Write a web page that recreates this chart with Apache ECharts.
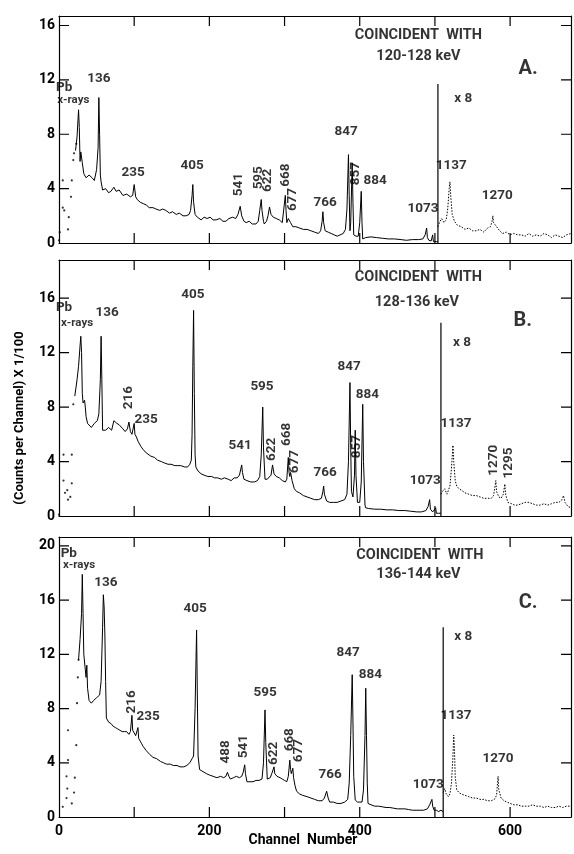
<!DOCTYPE html>
<html><head><meta charset="utf-8">
<script src="https://cdn.jsdelivr.net/npm/echarts@6/dist/echarts.min.js"></script>
<style>html,body{margin:0;padding:0;background:#fff}#c{width:574px;height:854px}</style>
</head><body><div id="c"></div>
<script>
// ---------- data: [channel, counts/100] ----------
const xMax = 681;
const xTickStep = 100;
const xTickValues = [100, 200, 300, 400, 500, 600];
const xLabelsShown = ['0', '200', '400', '600'];
const yTickStep = 4;
const yTickValues = [[4, 8, 12, 16], [4, 8, 12, 16], [4, 8, 12, 16, 20]];
const panelMax = [16.7, 18.8, 20.66];

// Panel A (coincident with 120-128 keV)
const dotsA = [[0,0.2],[1,0.8],[5,2.6],[7,2.4],[5,4.6],[12,1.0],[13,1.9],[16,3.4],[17,4.6],[19,6.1],[20,6.6],[23,7.3]];
const lineA = [[22,6.8],[24,7.8],[26,9.8],[27,8.5],[28,6.0],[29,6.7],[31,5.9],[33,5.1],[36,4.8],[40,5.0],[44,4.8],[47,4.6],[50,5.4],[52,7],[53,10.7],[54,8],[55,5],[56,4.5],[58,3.9],[62,4.0],[66,3.7],[69,3.8],[73,4.1],[76,3.8],[80,3.9],[85,3.5],[90,3.6],[95,3.4],[98,3.5],[100,4.3],[102,3.4],[104,3.2],[108,3.0],[112,2.9],[116,2.8],[120,2.6],[125,2.6],[129,2.5],[134,2.4],[138,2.5],[142,2.4],[147,2.2],[151,2.3],[156,2.1],[160,2.2],[165,2.0],[169,2.0],[173,2.1],[175,2.4],[177,3.5],[178,4.3],[179,3.0],[181,2.1],[184,1.9],[189,1.7],[193,1.9],[197,1.8],[201,1.9],[205,1.7],[209,1.7],[214,1.8],[218,1.6],[222,1.6],[226,1.8],[231,1.9],[235,1.8],[238,2.1],[241,2.7],[243,2.0],[246,1.6],[249,1.5],[253,1.6],[257,1.4],[262,1.4],[265,1.6],[267,2.4],[269,3.2],[270,2.4],[272,1.6],[273,1.4],[276,1.6],[278,2.0],[280,2.65],[282,2.1],[285,1.9],[289,1.8],[293,1.7],[297,1.5],[299,1.6],[301,3.5],[302,2.4],[303,1.5],[305,1.8],[306,1.9],[308,1.5],[311,1.2],[315,1.2],[320,1.1],[325,1.0],[330,1.0],[335,0.9],[340,0.8],[345,0.7],[348,0.9],[350,1.6],[351,2.3],[352,1.5],[354,0.9],[358,0.8],[362,0.7],[366,0.6],[370,0.5],[374,0.6],[378,0.7],[381,1.0],[383,2.5],[385,6.5],[386,3.5],[387,0.9],[388,1.5],[390,5.9],[391,3],[392,0.6],[395,0.5],[398,0.5],[400,1.5],[402,3.8],[403,1.5],[404,0.3],[408,0.4],[415,0.45],[422,0.4],[430,0.35],[438,0.3],[446,0.3],[455,0.25],[462,0.2],[470,0.25],[478,0.25],[484,0.3],[487,0.6],[489,1.1],[490,0.4],[492,0.2],[495,0.15],[497,0.6],[498,0.1],[502,0.1],[504,0.1]];
const breakA = [[504,0],[504,11.7]];
const x8A = [[504,1.2],[506,1.5],[509,1.8],[512,1.5],[515,1.7],[517,2.5],[519,4.0],[520,4.5],[521,3.5],[523,2.1],[526,1.6],[530,1.3],[535,1.2],[540,1.0],[545,1.1],[550,0.9],[555,0.9],[560,1.0],[565,0.8],[570,1.1],[574,1.2],[576,1.6],[577,2.0],[578,1.5],[582,1.2],[586,0.9],[590,0.7],[595,0.8],[600,0.6],[605,0.7],[610,0.6],[615,0.6],[620,0.5],[625,0.7],[630,0.5],[635,0.6],[640,0.5],[645,0.7],[650,0.6],[655,0.4],[660,0.6],[665,0.5],[670,0.4],[675,0.6],[681,0.7]];

// Panel B (coincident with 128-136 keV)
const dotsB = [[0,0.1],[6,2.6],[8,1.7],[11,1.9],[12,1.2],[15,1.4],[17,2.4],[6,4.5],[17,4.5],[19,8.2]];
const lineB = [[21,8.8],[24,10.0],[26,11],[28,12.5],[29,13.2],[30,12],[31,9],[32,8.3],[34,8.5],[35,8.0],[36,7.3],[38,6.8],[40,6.7],[43,6.5],[47,6.8],[51,7.0],[53,7.5],[55,10],[56,13.2],[57,10],[58,6.3],[62,6.3],[66,6.5],[70,6.3],[73,7.0],[77,6.8],[80,6.7],[85,6.4],[88,6.2],[91,6.4],[93,6.9],[95,6.2],[97,6.0],[99,6.0],[100,6.8],[101,6.0],[103,5.8],[105,5.5],[109,5.1],[113,4.8],[117,4.6],[122,4.4],[127,4.3],[131,4.1],[136,4.0],[140,3.9],[145,3.8],[149,3.8],[154,3.7],[158,3.7],[162,3.7],[167,3.6],[171,3.6],[174,3.8],[176,4.1],[177,6],[178,11],[179,15.1],[180,9],[181,4.5],[182,3.6],[185,3.3],[189,3.1],[193,3.0],[198,2.9],[203,2.9],[207,2.8],[211,2.8],[216,2.7],[220,2.8],[225,2.7],[229,2.6],[233,2.8],[237,2.8],[240,3.0],[243,3.75],[244,3.2],[246,2.7],[250,2.6],[255,2.5],[260,2.5],[264,2.6],[267,2.9],[269,4.5],[271,8.0],[272,5],[274,2.7],[277,2.7],[279,2.8],[282,3.0],[284,3.75],[286,3.1],[289,2.9],[293,2.8],[297,2.6],[301,2.5],[303,2.7],[305,4.3],[306,3.2],[307,2.9],[308,3.2],[310,2.6],[313,2.0],[316,1.8],[320,1.7],[325,1.5],[330,1.4],[335,1.3],[340,1.2],[345,1.2],[349,1.3],[351,1.8],[352,2.2],[353,1.6],[356,1.1],[360,1.0],[365,1.0],[370,1.0],[375,1.1],[380,1.2],[383,1.6],[385,4],[387,9.8],[388,5],[389,1.8],[391,1.4],[393,3.0],[394,6.3],[395,3.0],[397,1.0],[400,1.0],[402,2.5],[404,8.2],[405,4.0],[407,0.8],[408,0.6],[412,0.55],[420,0.5],[428,0.5],[436,0.45],[444,0.45],[452,0.4],[460,0.4],[468,0.35],[476,0.3],[482,0.3],[488,0.4],[491,0.7],[493,1.2],[494,0.5],[497,0.3],[499,0.3],[501,0.6],[502,0.2],[505,0.2],[508,0.2]];
const breakB = [[508,0],[508,14.2]];
const x8B = [[508,1.6],[510,1.8],[513,2.0],[516,1.6],[518,1.5],[520,2.2],[522,3.5],[524,5.2],[525,4.0],[527,2.6],[529,2.2],[532,2.0],[535,1.9],[540,1.7],[545,1.6],[550,1.5],[555,1.5],[560,1.4],[565,1.3],[570,1.3],[575,1.3],[578,1.5],[580,2.2],[581,2.6],[582,1.8],[585,1.4],[588,1.3],[591,1.6],[593,2.35],[594,1.6],[597,1.0],[602,0.9],[606,0.8],[610,0.8],[615,0.9],[620,1.0],[625,1.0],[630,0.9],[635,0.8],[640,0.8],[645,0.9],[650,0.8],[655,0.9],[660,1.0],[665,1.0],[669,1.2],[671,1.5],[673,1.0],[677,0.7],[681,0.6]];

// Panel C (coincident with 136-144 keV)
const dotsC = [[5,0.75],[10,1.4],[11,2.1],[10,3.0],[12,4.2],[12,6.4],[17,1.0],[20,1.8],[21,2.9],[23,5.3],[24,8.4],[25,10.3],[26,11.6]];
const lineC = [[26,11.6],[28,13.1],[30,15],[31,17.9],[32,15],[33,12],[35,11.9],[36,10.3],[37,11.2],[38,9.5],[40,8.6],[43,8.4],[46,8.6],[50,8.8],[54,9.0],[56,10],[58,14],[59,16.4],[60,15.5],[61,13.5],[62,10],[63,7.3],[66,7.0],[69,6.9],[72,6.7],[75,6.6],[78,6.5],[81,6.4],[84,6.3],[87,6.3],[90,6.3],[93,6.1],[95,6.3],[97,7.5],[98,6.4],[100,6.2],[102,6.0],[104,5.9],[105,6.6],[106,5.8],[108,5.6],[110,5.4],[112,5.2],[116,4.9],[121,4.6],[125,4.4],[130,4.3],[135,4.1],[139,4.0],[143,3.9],[148,3.9],[152,3.8],[157,3.8],[161,3.7],[166,3.7],[170,3.8],[174,4.0],[177,4.3],[179,4.5],[181,8],[183,13.8],[184,9],[185,4.5],[187,3.5],[190,3.4],[192,3.3],[196,3.2],[200,3.1],[205,3.0],[210,2.9],[215,3.0],[219,2.9],[222,3.0],[224,3.3],[226,3.0],[228,2.8],[232,2.9],[236,3.0],[240,2.9],[243,3.0],[245,3.3],[247,3.85],[248,3.2],[250,2.6],[254,2.6],[258,2.6],[262,2.7],[266,2.7],[270,2.8],[272,4.0],[274,7.9],[275,5.5],[277,2.8],[279,2.8],[281,2.9],[283,3.2],[286,3.7],[287,3.2],[290,3.0],[294,2.9],[297,2.8],[300,2.7],[303,2.6],[305,3.0],[307,4.2],[308,3.5],[309,3.2],[311,3.6],[312,2.9],[314,2.3],[316,1.9],[320,1.7],[324,1.6],[330,1.5],[335,1.4],[340,1.3],[345,1.2],[350,1.2],[353,1.4],[356,1.9],[358,1.4],[360,1.1],[365,1.1],[370,1.0],[375,1.0],[380,1.1],[384,1.3],[386,2.5],[388,6],[390,10.5],[391,7],[392,3],[394,1.25],[397,1.1],[400,1.1],[403,1.1],[405,2.0],[407,6],[408,9.5],[409,6],[410,2.5],[411,1.0],[415,0.9],[420,0.8],[425,0.8],[430,0.75],[435,0.7],[440,0.7],[445,0.65],[450,0.6],[455,0.6],[460,0.6],[465,0.55],[470,0.5],[475,0.5],[480,0.5],[485,0.5],[490,0.6],[493,0.9],[496,1.3],[497,0.8],[499,0.5],[502,0.5],[505,0.4],[508,0.5],[511,0.4]];
const breakC = [[511,0],[511,14.0]];
const x8C = [[511,1.8],[513,2.1],[515,1.7],[518,1.5],[520,1.7],[522,2.5],[524,4.5],[525,6.05],[526,5],[527,3],[529,2.0],[532,1.8],[535,1.7],[540,1.6],[545,1.5],[550,1.4],[555,1.4],[560,1.3],[565,1.3],[570,1.2],[575,1.2],[579,1.3],[582,1.6],[584,3.0],[585,2.0],[588,1.4],[592,1.2],[596,1.1],[600,1.0],[605,0.9],[610,0.9],[615,0.8],[620,0.8],[625,0.8],[630,0.9],[635,0.8],[640,0.8],[645,0.7],[650,0.8],[655,0.7],[660,0.7],[665,0.8],[670,0.7],[675,0.8],[681,0.8]];

// annotations: [text, channel, value, rotated?, style]
const notesA = [['Pb',7,11.4,0,'b'],['x-rays',19,10.5,0,'s'],['136',53,12.1],['235',98.5,5.2],['405',177,5.7],['541',239.5,4.3,1],['595',265,4.8,1],['622',278,4.6,1],['668',301,5.0,1],['677',311,3.2,1],['766',354,3.0],['847',382,8.2],['857',394,5.1,1],['884',420.5,4.6],['1073',484,2.5],['x 8',537.6,10.6],['1137',521.6,5.7],['1270',583,3.5],['COINCIDENT  WITH',478,15.3,0,'t'],['120-128 keV',478,13.7,0,'t'],['A.',624,12.8,0,'big']];
const notesB = [['Pb',6.7,15.3,0,'b'],['x-rays',24,14.2,0,'s'],['136',64,14.9],['216',92,8.7,1],['235',116,7.1],['405',178,16.25],['595',270,9.5],['541',241,5.2],['622',283,4.9,1],['668',303,6.0,1],['677',313,4.0,1],['766',354,3.2],['847',386,11.0],['884',410,8.9],['857',396.5,5.1,1],['1073',487,2.6],['x 8',536,12.7],['1137',528,6.8],['1270',577.5,4.1,1],['1295',597.5,3.9,1],['COINCIDENT  WITH',478,17.5,0,'t'],['128-136 keV',476,15.7,0,'t'],['B.',617,14.3,0,'big']];
const notesC = [['Pb',13,19.4,0,'b'],['x-rays',26.6,18.6,0,'s'],['136',62.5,17.3],['216',96,8.5,1],['235',118.4,7.4],['405',181,15.4],['488',221,4.8,1],['541',245,5.2,1],['595',274,9.2],['622',286,4.7,1],['668',307,5.7,1],['677',319,4.9,1],['766',360.6,3.1],['847',384.6,12.1],['884',414,10.5],['1073',491,2.4],['x 8',537.6,13.3],['1137',528,7.5],['1270',584,4.3],['COINCIDENT  WITH',480,19.3,0,'t'],['136-144 keV',478,17.9,0,'t'],['C.',624,15.8,0,'big']];

const yTitle = '(Counts per Channel) X 1/100';
const xTitle = 'Channel  Number';

// ---------- chart ----------
const FONT = 'Roboto';
const INK = '#000';
const CHART_W = 574;
const GRID_LEFT = 59, GRID_RIGHT = 3;
const TICK_PX = 10;
const grids = [
  {left: GRID_LEFT, right: GRID_RIGHT, top: 16, height: 227},
  {left: GRID_LEFT, right: GRID_RIGHT, top: 260, height: 256},
  {left: GRID_LEFT, right: GRID_RIGHT, top: 537, height: 280}
];
const plotW = CHART_W - GRID_LEFT - GRID_RIGHT;
function axisLineSt() { return {color: INK, width: 1.2}; }
function xAxis(i, pos) {
  return {type: 'value', min: 0, max: xMax, interval: xTickStep, gridIndex: i, position: pos,
    axisLine: {show: true, onZero: false, lineStyle: axisLineSt()},
    axisTick: {show: false},
    splitLine: {show: false},
    axisLabel: (pos === 'bottom' && i === 2) ? {show: true, showMaxLabel: false,
      color: INK, fontFamily: FONT, fontSize: 14, fontWeight: 'bold', margin: 7,
      formatter: v => xLabelsShown.indexOf(String(v)) >= 0 ? String(v) : ''} : {show: false}};
}
function yAxis(i, pos) {
  return {type: 'value', min: 0, max: panelMax[i], interval: yTickStep, gridIndex: i, position: pos,
    axisLine: {show: true, onZero: false, lineStyle: axisLineSt()},
    axisTick: {show: false},
    splitLine: {show: false},
    axisLabel: pos === 'left' ? {show: true, showMaxLabel: false, color: INK, fontFamily: FONT,
      fontSize: 14, fontWeight: 'bold', margin: 4} : {show: false}};
}
// inward tick marks drawn as short line segments in data space
function tickSeg(i, pts) {
  return {type: 'line', xAxisIndex: i * 2, yAxisIndex: i * 2, data: pts, showSymbol: false, silent: true,
    lineStyle: {color: INK, width: 1.2}, z: 4};
}
const xAxes = [], yAxes = [], series = [];
const panels = [
  {dots: dotsA, line: lineA, brk: breakA, x8: x8A, notes: notesA},
  {dots: dotsB, line: lineB, brk: breakB, x8: x8B, notes: notesB},
  {dots: dotsC, line: lineC, brk: breakC, x8: x8C, notes: notesC}
];
panels.forEach((p, i) => {
  xAxes.push(xAxis(i, 'bottom'));
  xAxes.push(xAxis(i, 'top'));
  yAxes.push(yAxis(i, 'left'));
  yAxes.push(yAxis(i, 'right'));
  const xi = i * 2, yi = i * 2;
  const ym = panelMax[i];
  const yLen = TICK_PX * ym / grids[i].height;
  const xLen = TICK_PX * xMax / plotW;
  xTickValues.forEach(v => {
    series.push(tickSeg(i, [[v, 0], [v, yLen]]));
    series.push(tickSeg(i, [[v, ym], [v, ym - yLen]]));
  });
  yTickValues[i].filter(v => v < ym).forEach(v => {
    series.push(tickSeg(i, [[0, v], [xLen, v]]));
    series.push(tickSeg(i, [[xMax, v], [xMax - xLen, v]]));
  });
  series.push({type: 'scatter', xAxisIndex: xi, yAxisIndex: yi, data: p.dots, symbolSize: 2.2,
    itemStyle: {color: INK}, silent: true});
  series.push({type: 'line', xAxisIndex: xi, yAxisIndex: yi, data: p.line, showSymbol: false,
    lineStyle: {color: INK, width: 1}, silent: true});
  series.push({type: 'line', xAxisIndex: xi, yAxisIndex: yi, data: p.brk, showSymbol: false,
    lineStyle: {color: INK, width: 1.2}, silent: true});
  series.push({type: 'line', xAxisIndex: xi, yAxisIndex: yi, data: p.x8, showSymbol: false,
    lineStyle: {color: INK, width: 1, type: [1.5, 1.5]}, silent: true});
  series.push({type: 'scatter', xAxisIndex: xi, yAxisIndex: yi, symbolSize: 0, silent: true, z: 10,
    data: p.notes.map(n => {
      const st = n[4];
      const size = st === 'big' ? 20 : st === 's' ? 11.5 : st === 't' ? 14.5 : 13.5;
      return {value: [n[1], n[2]], name: n[0], label: {
        show: true, position: 'inside', formatter: n[0], rotate: n[3] ? 90 : 0,
        color: INK, fontFamily: FONT, fontSize: size, fontWeight: 'bold',
        align: 'center', verticalAlign: 'middle'}};
    })});
});

const chart = echarts.init(document.getElementById('c'), null, {renderer: 'canvas'});
chart.setOption({
  animation: false,
  backgroundColor: '#fff',
  grid: grids,
  xAxis: xAxes,
  yAxis: yAxes,
  series: series,
  graphic: [
    {type: 'text', x: 20, y: 418, rotation: Math.PI / 2,
     style: {text: yTitle, font: 'bold 13px Roboto', fill: INK, align: 'center', verticalAlign: 'middle'}},
    {type: 'text', x: 303, y: 840,
     style: {text: xTitle, font: 'bold 14px Roboto', fill: INK, align: 'center', verticalAlign: 'middle'}}
  ]
});
</script></body></html>
